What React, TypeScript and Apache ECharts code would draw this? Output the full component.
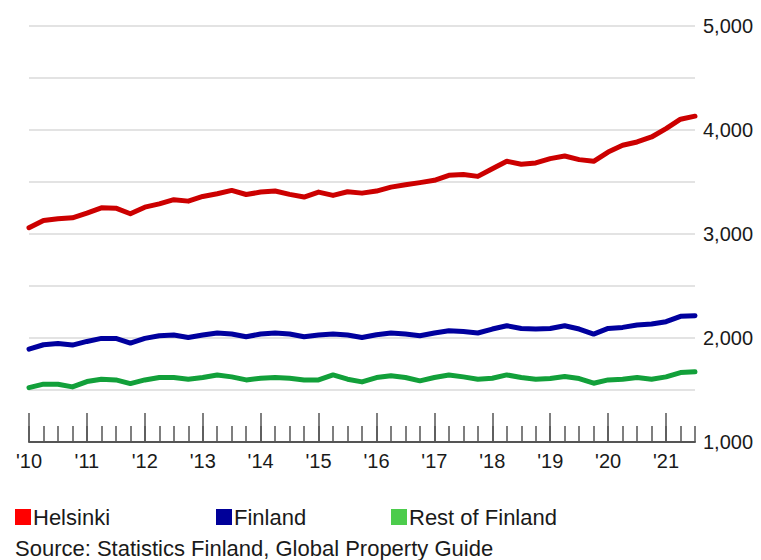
import React, { useEffect, useRef } from "react";
import * as echarts from "echarts";

const years = ["2010", "2011", "2012", "2013", "2014", "2015", "2016", "2017", "2018", "2019", "2020", "2021"];
const quarterNames = ["Q1", "Q2", "Q3", "Q4"];
const lastYearQuarters = 3;

const helsinki = [
  3060, 3130, 3146, 3156, 3200, 3252, 3248, 3195, 3258, 3290, 3330, 3316,
  3361, 3387, 3419, 3380, 3403, 3413, 3381, 3355, 3403, 3371, 3406, 3393,
  3413, 3451, 3474, 3494, 3516, 3564, 3573, 3554, 3628, 3699, 3670, 3683,
  3725, 3750, 3715, 3699, 3788, 3853, 3885, 3933, 4014, 4104, 4133,
];
const finland = [
  1893, 1935, 1947, 1932, 1967, 1996, 1996, 1951, 1996, 2022, 2028, 2005,
  2028, 2048, 2038, 2012, 2038, 2048, 2038, 2012, 2028, 2038, 2028, 2005,
  2031, 2048, 2038, 2022, 2048, 2070, 2063, 2048, 2086, 2118, 2092, 2086,
  2092, 2118, 2086, 2038, 2092, 2102, 2125, 2134, 2157, 2208, 2215,
];
const restOfFinland = [
  1523, 1556, 1556, 1530, 1581, 1604, 1597, 1562, 1597, 1620, 1620, 1604,
  1620, 1645, 1626, 1597, 1613, 1620, 1613, 1597, 1597, 1645, 1604, 1578,
  1620, 1636, 1620, 1588, 1620, 1645, 1626, 1604, 1613, 1645, 1620, 1604,
  1610, 1630, 1610, 1565, 1597, 1604, 1620, 1604, 1626, 1668, 1675,
];

const seriesNames = ["Helsinki", "Finland", "Rest of Finland"];
const lineColors = ["#cc0000", "#00009e", "#12a03a"];
const legendColors = ["#ff0000", "#000099", "#4ccc4c"];
const sourceText = "Source: Statistics Finland, Global Property Guide";

const categories: string[] = [];
years.forEach((y, i) => {
  const n = i === years.length - 1 ? lastYearQuarters : 4;
  for (let q = 0; q < n; q++) categories.push(y + " " + quarterNames[q]);
});

const FONT = "Liberation Sans";

export default function App() {
  const ref = useRef<HTMLDivElement>(null);
  useEffect(() => {
    if (!ref.current) return;
    const chart = echarts.init(ref.current, undefined, { renderer: "svg" });
    const legendLefts = [10, 211, 386];
    chart.setOption({
      animation: false,
      backgroundColor: "#ffffff",
      grid: { left: 29, right: 66, top: 26, bottom: 118, containLabel: false, outerBoundsMode: "none" },
      legend: seriesNames.map((name, i) => ({
        left: legendLefts[i],
        top: 501,
        icon: "rect",
        itemWidth: 16,
        itemHeight: 16,
        selectedMode: false,
        data: [{ name, itemStyle: { color: legendColors[i] } }],
        textStyle: { fontFamily: FONT, fontSize: 22, color: "#1a1a1a", padding: [0, 0, 0, -3] },
      })),
      xAxis: [
        {
          type: "category",
          position: "bottom",
          data: categories,
          boundaryGap: false,
          axisLine: { show: true, lineStyle: { color: "#555555", width: 2 } },
          axisTick: { show: true, inside: true, length: 16, interval: 0, lineStyle: { color: "#555555", width: 1.5 } },
          axisLabel: { show: false },
          splitLine: { show: false },
        },
        {
          type: "category",
          position: "bottom",
          data: categories,
          boundaryGap: false,
          axisLine: { show: false },
          axisTick: { show: true, inside: true, length: 29, interval: 3, lineStyle: { color: "#555555", width: 1.5 } },
          axisLabel: {
            show: true,
            interval: 3,
            margin: 9,
            fontFamily: FONT,
            fontSize: 20,
            color: "#1a1a1a",
            formatter: (v: string) => "'" + v.slice(2, 4),
          },
          splitLine: { show: false },
        },
      ],
      yAxis: {
        type: "value",
        position: "right",
        min: 1000,
        max: 5000,
        interval: 500,
        axisLine: { show: false },
        axisTick: { show: false },
        axisLabel: {
          margin: 8,
          fontFamily: FONT,
          fontSize: 20,
          color: "#1a1a1a",
          formatter: (v: number) => (v % 1000 === 0 ? v.toLocaleString("en-US") : ""),
        },
        splitLine: { show: true, lineStyle: { color: "#e3e3e3", width: 2 } },
      },
      series: [helsinki, finland, restOfFinland].map((d, i) => ({
        name: seriesNames[i],
        type: "line",
        xAxisIndex: 0,
        data: d,
        showSymbol: false,
        symbol: "none",
        itemStyle: { color: lineColors[i] },
        lineStyle: { color: lineColors[i], width: 5, cap: "round", join: "round" },
      })),
      graphic: [
        {
          type: "text",
          left: 15,
          top: 537,
          style: { text: sourceText, font: `22px "${FONT}"`, fill: "#1a1a1a" },
        },
      ],
    });
    return () => chart.dispose();
  }, []);
  return <div ref={ref} style={{ position: "fixed", left: 0, top: 0, width: 761, height: 560 }} />;
}
